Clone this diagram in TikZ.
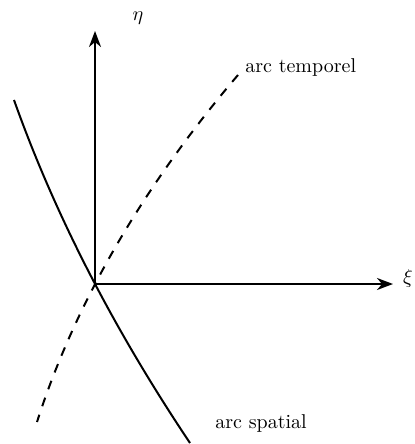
\documentclass[tikz,border=0pt]{standalone}
\usetikzlibrary{arrows.meta}
\begin{document}
\begin{tikzpicture}[x=0.5pt,y=-0.5pt,
  axis/.style={line width=1pt,-{Stealth[length=8pt,width=6pt,inset=2.5pt]}},
  spatialarc/.style={line width=1pt},
  temporalarc/.style={line width=1pt,dash pattern=on 4.5pt off 4.5pt},
  lbl/.style={inner sep=0pt,font=\normalsize}]
\useasboundingbox (0,0) rectangle (415,444);
\coordinate (O) at (95,284);
\coordinate (xend) at (393,284);
\coordinate (yend) at (95,31);
\coordinate (s1) at (14,100);
\coordinate (s2) at (190,443);
\coordinate (t1) at (238,75);
\coordinate (t2) at (37,422);
\draw[axis] (O) -- (xend);
\draw[axis] (O) -- (yend);
\draw[spatialarc] (s1) .. controls (54.73,214.33) and (113.4,328.67) .. (s2);
\draw[temporalarc] (t1) .. controls (140.47,189.33) and (73.47,307.67) .. (t2);
\node[lbl,anchor=base] (xi) at (408,283) {$\xi$};
\node[lbl,anchor=base] (eta) at (138,21) {$\eta$};
\node[lbl,anchor=base west] (temp) at (245,73) {arc temporel};
\node[lbl,anchor=base west] (spat) at (215,428) {arc spatial};
\end{tikzpicture}
\end{document}
